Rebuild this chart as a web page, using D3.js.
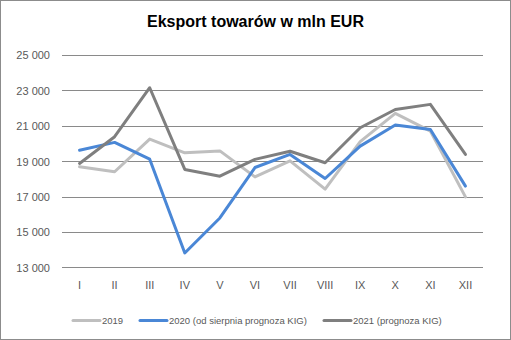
<!DOCTYPE html>
<html><head><meta charset="utf-8">
<script src="https://cdn.jsdelivr.net/npm/d3@7"></script>
<style>body{margin:0;background:#fff}svg{display:block}</style>
</head><body><svg id="c" width="511" height="340"></svg>
<script>
const months = ["I","II","III","IV","V","VI","VII","VIII","IX","X","XI","XII"];
const s2019 = [18680,18400,20250,19470,19580,18110,19020,17420,20100,21700,20700,16980];
const s2020 = [19620,20060,19110,13810,15790,18640,19380,18020,19850,21040,20790,17590];
const s2021 = [18870,20380,23150,18530,18150,19100,19560,18910,20890,21920,22210,19380];
const yTicks = [13000,15000,17000,19000,21000,23000,25000];
const seriesNames = ["2019","2020 (od sierpnia prognoza KIG)","2021 (prognoza KIG)"];
const colors = ["#BFBFBF","#4A87D6","#7F7F7F"];

const svg = d3.select("#c");
svg.append("rect").attr("x",0.5).attr("y",0.5).attr("width",510).attr("height",339)
  .attr("fill","#fff").attr("stroke","#8c8c8c");
svg.append("text").attr("x",255.5).attr("y",27).attr("text-anchor","middle")
  .attr("font-family","Liberation Sans, Arial, sans-serif").attr("font-weight","bold")
  .attr("font-size",16).attr("fill","#000").text("Eksport towarów w mln EUR");

const x = d3.scaleBand().domain(months).range([62,483]);
const y = d3.scaleLinear().domain([13000,25000]).range([267.3,55]);
const fmt = v => d3.format(",")(v).replace(/,/g," ");

const grid = svg.append("g");
grid.selectAll("line").data(yTicks).join("line")
  .attr("x1",62).attr("x2",483).attr("y1",d=>Math.round(y(d))+0.5).attr("y2",d=>Math.round(y(d))+0.5)
  .attr("stroke","#8a8a8a").attr("stroke-width",1);

const yAxis = d3.axisLeft(y).tickValues(yTicks).tickFormat(fmt).tickSize(0).tickPadding(0);
const ya = svg.append("g").attr("transform","translate(50,0)").call(yAxis);
ya.select(".domain").remove();
ya.selectAll("text").attr("font-family","Liberation Sans, Arial, sans-serif").attr("font-size",11).attr("fill","#595959").attr("dy","0.35em");

const xAxis = d3.axisBottom(x).tickSize(0).tickPadding(0);
const xa = svg.append("g").attr("transform","translate(0,285)").call(xAxis);
xa.select(".domain").remove();
xa.selectAll("text").attr("font-family","Liberation Sans, Arial, sans-serif").attr("font-size",11).attr("fill","#595959").attr("dy","0.35em");

const data = [s2019,s2020,s2021];
const line = d3.line().x((d,i)=>x(months[i])+x.bandwidth()/2).y(d=>y(d));
data.forEach((s,i)=>{
  svg.append("path").attr("d",line(s)).attr("fill","none").attr("stroke",colors[i])
    .attr("stroke-width",3).attr("stroke-linejoin","round").attr("stroke-linecap","round");
});

const legX = [73,140,324];
const lg = svg.append("g");
seriesNames.forEach((n,i)=>{
  lg.append("line").attr("x1",legX[i]).attr("x2",legX[i]+27).attr("y1",320.5).attr("y2",320.5)
    .attr("stroke",colors[i]).attr("stroke-width",3).attr("stroke-linecap","round");
  lg.append("text").attr("x",legX[i]+29).attr("y",320.5).attr("dy","0.35em")
    .attr("font-family","Liberation Sans, Arial, sans-serif").attr("font-size",9.5).attr("fill","#595959").text(n);
});
</script></body></html>
